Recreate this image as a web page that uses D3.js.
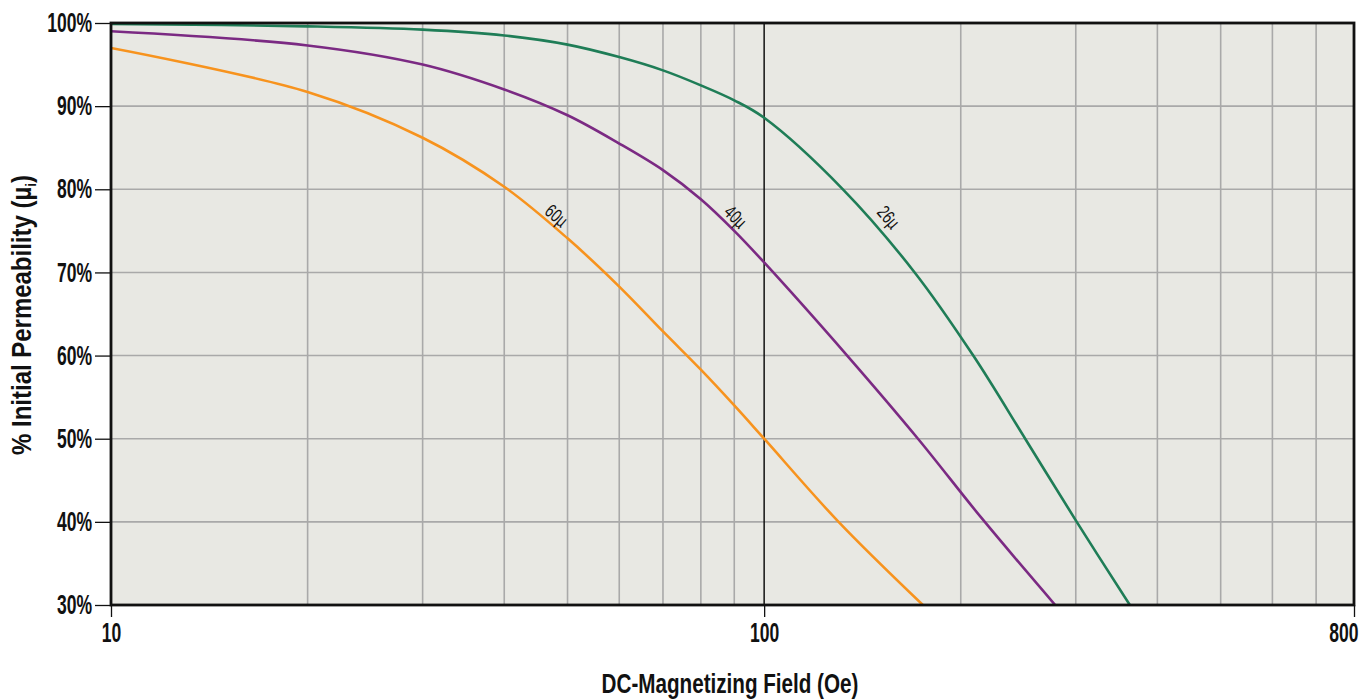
<!DOCTYPE html>
<html>
<head>
<meta charset="utf-8">
<script src="https://cdn.jsdelivr.net/npm/d3@7"></script>
<style>
  html, body { margin: 0; padding: 0; background: #fff; }
  svg text { font-family: "Liberation Sans", Arial, sans-serif; font-weight: bold; fill: #111; }
</style>
</head>
<body>
<svg id="chart" width="1369" height="700"></svg>
<script>
// ---- data ----
const field60 = [10, 20, 30, 40, 50, 60, 70, 80, 90, 100, 130, 175];
const perm60  = [97, 91.7, 86.2, 80.3, 74.1, 68.3, 62.9, 58.3, 54.0, 50, 40, 30];

const field40 = [10, 20, 30, 40, 50, 60, 70, 80, 90, 100, 134, 172, 215, 279];
const perm40  = [99, 97.3, 95, 92, 88.9, 85.5, 82.3, 78.8, 75.0, 71.2, 60, 50, 40.5, 30];

const field26 = [10, 20, 30, 40, 50, 60, 70, 80, 90, 100, 132, 170, 209, 251, 301, 363];
const perm26  = [99.9, 99.6, 99.2, 98.5, 97.4, 95.9, 94.3, 92.5, 90.7, 88.6, 80, 70, 60, 50, 40, 30];

const seriesNames = ["60µ", "40µ", "26µ"];
const seriesColors = ["#F7931E", "#7B2A83", "#1F7D57"];
const labelAt = [47, 88, 149];          // field value (Oe) where each curve label sits

const xGridValues = [20, 30, 40, 50, 60, 70, 80, 90, 200, 300, 400, 500, 600, 700];
const xTickValues = [10, 100, 800];
const yTickValues = [30, 40, 50, 60, 70, 80, 90, 100];

const xTitle = "DC-Magnetizing Field (Oe)";
const yTitle = "% Initial Permeability (µ";
const yTitleSub = "i";

// ---- layout ----
const svg = d3.select("#chart");
const pLeft = 111, pRight = 1354, pTop = 23, pBottom = 605;
const x = d3.scaleLog().domain([10, 800]).range([pLeft, pRight]);
const y = d3.scaleLinear().domain([30, 100]).range([pBottom, pTop]);
const SX = 0.65; // horizontal condensing of text
const labelOffset = [10, 11, 15];

// background
svg.append("rect").attr("x", pLeft).attr("y", pTop)
  .attr("width", pRight - pLeft).attr("height", pBottom - pTop).attr("fill", "#E8E8E3");

// grid
const grid = svg.append("g");
grid.selectAll("line.gx").data(xGridValues).join("line").attr("class", "gx")
  .attr("x1", d => x(d)).attr("x2", d => x(d)).attr("y1", pTop).attr("y2", pBottom)
  .attr("stroke", "#A9A9A9").attr("stroke-width", 1.6);
grid.selectAll("line.gy").data(yTickValues.filter(v => v > 30 && v < 100)).join("line").attr("class", "gy")
  .attr("x1", pLeft).attr("x2", pRight).attr("y1", d => y(d)).attr("y2", d => y(d))
  .attr("stroke", "#A9A9A9").attr("stroke-width", 1.6);
grid.append("line").attr("x1", x(100)).attr("x2", x(100)).attr("y1", pTop).attr("y2", pBottom)
  .attr("stroke", "#111").attr("stroke-width", 1.5);

// curves
svg.append("clipPath").attr("id", "clip").append("rect")
  .attr("x", pLeft).attr("y", pTop).attr("width", pRight - pLeft).attr("height", pBottom - pTop);
const line = d3.line().x(d => x(d[0])).y(d => y(d[1])).curve(d3.curveCatmullRom.alpha(0.5));
const seriesData = [
  d3.zip(field60, perm60),
  d3.zip(field40, perm40),
  d3.zip(field26, perm26)
];
const curves = svg.append("g").attr("clip-path", "url(#clip)");
const paths = curves.selectAll("path").data(seriesData).join("path")
  .attr("d", line).attr("fill", "none")
  .attr("stroke", (d, i) => seriesColors[i]).attr("stroke-width", 2.6);

// curve labels placed along each path, rotated to its tangent
paths.each(function(d, i) {
  const node = this;
  const len = node.getTotalLength();
  const targetX = x(labelAt[i]);
  let lo = 0, hi = len;
  for (let k = 0; k < 40; k++) {
    const mid = (lo + hi) / 2;
    if (node.getPointAtLength(mid).x < targetX) lo = mid; else hi = mid;
  }
  const p = node.getPointAtLength(lo);
  const p2 = node.getPointAtLength(Math.min(len, lo + 4));
  const p1 = node.getPointAtLength(Math.max(0, lo - 4));
  const ang = Math.atan2(p2.y - p1.y, p2.x - p1.x);
  const off = labelOffset[i];
  const nx = Math.sin(ang) * off, ny = -Math.cos(ang) * off;
  svg.append("text")
    .attr("transform", `translate(${p.x + nx},${p.y + ny}) rotate(${ang * 180 / Math.PI}) scale(0.72,1)`)
    .attr("text-anchor", "middle").attr("dy", "0.35em")
    .style("font-size", "19px").style("font-weight", "normal")
    .text(seriesNames[i]);
});

// frame
svg.append("rect").attr("x", pLeft).attr("y", pTop)
  .attr("width", pRight - pLeft).attr("height", pBottom - pTop)
  .attr("fill", "none").attr("stroke", "#111").attr("stroke-width", 2.8);

// axes
const yAxis = d3.axisLeft(y).tickValues(yTickValues).tickSize(16).tickPadding(3)
  .tickFormat(d => d + "%");
const gy = svg.append("g").attr("transform", `translate(${pLeft},0)`).call(yAxis);
gy.select(".domain").remove();
gy.selectAll(".tick line").attr("stroke", "#111").attr("stroke-width", 1.3);
gy.selectAll(".tick text").style("font-size", "27px").attr("fill", "#111")
  .attr("x", -19 / SX).attr("transform", `scale(${SX},1)`);

const xAxis = d3.axisBottom(x).tickValues(xTickValues).tickSize(12).tickPadding(6)
  .tickFormat(d3.format("d"));
const gx = svg.append("g").attr("transform", `translate(0,${pBottom})`).call(xAxis);
gx.select(".domain").remove();
gx.selectAll(".tick line").attr("stroke", "#111").attr("stroke-width", 1.3);
gx.selectAll(".tick text").style("font-size", "27px").attr("fill", "#111")
  .attr("transform", `scale(${SX},1)`)
  .each(function(d, i, nodes) {
    if (i === nodes.length - 1) d3.select(this).attr("text-anchor", "end").attr("x", 4 / SX);
  });

// axis titles
const xt = svg.append("text").attr("text-anchor", "middle").style("font-size", "27px")
  .text(xTitle);
const xw = xt.node().getComputedTextLength();
xt.attr("transform", `translate(730,693) scale(${257 / xw},1)`);

const yt = svg.append("text").attr("text-anchor", "middle").style("font-size", "27px");
yt.append("tspan").text(yTitle);
yt.append("tspan").text(yTitleSub).style("font-size", "15px").attr("dy", "5");
yt.append("tspan").text(")").attr("dy", "-5");
const yw = yt.node().getComputedTextLength();
yt.attr("transform", `translate(31,315) rotate(-90) scale(${280 / yw},1)`);
</script>
</body>
</html>
